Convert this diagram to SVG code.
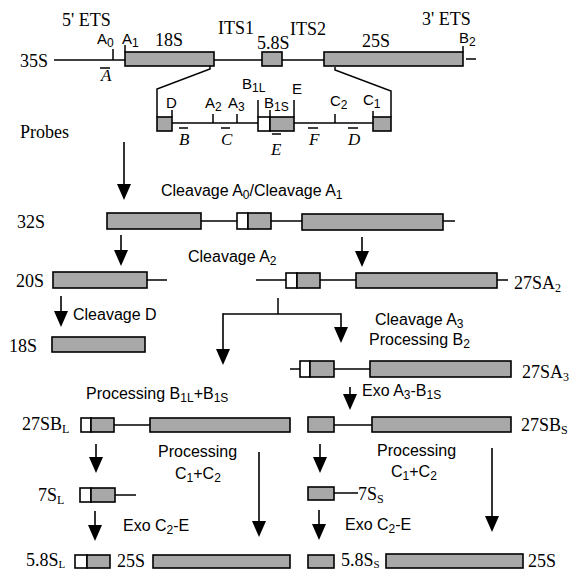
<svg xmlns="http://www.w3.org/2000/svg" width="577" height="572" viewBox="0 0 577 572">
<defs>
<style>
.bx{fill:#a8a8a8;stroke:#000;stroke-width:1.6}
.wb{fill:#fff;stroke:#000;stroke-width:1.6}
.ln{stroke:#000;stroke-width:1.5;fill:none}
.ar{stroke:#000;stroke-width:1.6;fill:none;marker-end:url(#ah)}
.ser{font-family:"Liberation Serif","Times New Roman",serif;font-size:18px;fill:#000}
.sm{font-size:12px}
.sb{font-size:11px}
.sans{font-family:"Liberation Sans",Arial,sans-serif;font-size:16px;fill:#000}
.lab{font-family:"Liberation Sans",Arial,sans-serif;font-size:15px;fill:#000}
.prb{font-family:"Liberation Serif","Times New Roman",serif;font-size:17px;font-style:italic;fill:#000}
</style>
<marker id="ah" viewBox="0 0 16 14" refX="12" refY="7" markerWidth="16" markerHeight="14" markerUnits="userSpaceOnUse" orient="auto">
<path d="M0,0 L16,7 L0,14 Z" fill="#000"/>
</marker>
</defs>
<rect width="577" height="572" fill="#fff"/>

<g id="n35S">
<text class="ser" x="20" y="67">35S</text>
<line class="ln" x1="54" y1="60" x2="125" y2="60"/>
<line class="ln" x1="113" y1="60" x2="113" y2="49"/>
<line class="ln" x1="125" y1="52" x2="125" y2="45"/>
<rect class="bx" x="125" y="52" width="89" height="14"/>
<line class="ln" x1="214" y1="60" x2="262" y2="60"/>
<rect class="bx" x="262" y="52" width="20" height="14"/>
<line class="ln" x1="282" y1="60" x2="324" y2="60"/>
<rect class="bx" x="324" y="52" width="139" height="14"/>
<line class="ln" x1="463" y1="52" x2="463" y2="46"/>
<line class="ln" x1="466" y1="59" x2="476" y2="59"/>
<text class="ser" x="62" y="26">5' ETS</text>
<text class="lab" x="97" y="44">A<tspan class="sm" dy="3">0</tspan></text>
<text class="lab" x="122" y="44">A<tspan class="sm" dy="3">1</tspan></text>
<text class="ser" x="155" y="46" font-size="17">18S</text>
<text class="ser" x="218" y="34" font-size="17">ITS1</text>
<text class="ser" x="257" y="49" font-size="17">5.8S</text>
<text class="ser" x="290" y="35" font-size="17">ITS2</text>
<text class="ser" x="362" y="47" font-size="17">25S</text>
<text class="ser" x="422" y="25" font-size="17">3' ETS</text>
<text class="lab" x="459" y="43">B<tspan class="sm" dy="3">2</tspan></text>
<line class="ln" x1="100" y1="68" x2="110" y2="68"/>
<text class="prb" x="101" y="81">A</text>
</g>

<g id="n-expanded">
<polyline class="ln" points="210,66 210,69 157,89 157,117"/>
<rect class="bx" x="157" y="117" width="15" height="14"/>
<line class="ln" x1="172" y1="117" x2="172" y2="110"/>
<line class="ln" x1="172" y1="123" x2="258" y2="123"/>
<line class="ln" x1="213" y1="123" x2="213" y2="114"/>
<line class="ln" x1="237" y1="123" x2="237" y2="114"/>
<rect class="wb" x="258" y="117" width="12" height="14"/>
<rect class="bx" x="270" y="117" width="24" height="14"/>
<line class="ln" x1="258" y1="117" x2="258" y2="100"/>
<line class="ln" x1="270" y1="117" x2="270" y2="110"/>
<line class="ln" x1="294" y1="117" x2="294" y2="100"/>
<line class="ln" x1="294" y1="123" x2="373" y2="123"/>
<line class="ln" x1="335" y1="123" x2="335" y2="114"/>
<rect class="bx" x="373" y="117" width="18" height="14"/>
<line class="ln" x1="373" y1="117" x2="373" y2="111"/>
<polyline class="ln" points="391,117 391,91 335,70 335,67"/>
<text class="lab" x="166" y="108">D</text>
<text class="lab" x="205" y="108">A<tspan class="sm" dy="3">2</tspan></text>
<text class="lab" x="228" y="108">A<tspan class="sm" dy="3">3</tspan></text>
<text class="lab" x="242" y="89">B<tspan class="sm" dy="3">1L</tspan></text>
<text class="lab" x="264" y="108">B<tspan class="sm" dy="3">1S</tspan></text>
<text class="lab" x="292" y="94">E</text>
<text class="lab" x="330" y="106">C<tspan class="sm" dy="3">2</tspan></text>
<text class="lab" x="363" y="105">C<tspan class="sm" dy="3">1</tspan></text>
<text class="ser" x="20" y="138">Probes</text>
<line class="ln" x1="179" y1="128" x2="188" y2="128"/>
<text class="prb" x="179" y="145">B</text>
<line class="ln" x1="221" y1="128" x2="230" y2="128"/>
<text class="prb" x="221" y="145">C</text>
<line class="ln" x1="272" y1="134" x2="281" y2="134"/>
<text class="prb" x="271" y="155">E</text>
<line class="ln" x1="308" y1="128" x2="318" y2="128"/>
<text class="prb" x="309" y="145">F</text>
<line class="ln" x1="348" y1="128" x2="358" y2="128"/>
<text class="prb" x="348" y="145">D</text>
</g>

<g id="n32S">
<text class="ser" x="17" y="228">32S</text>
<rect class="bx" x="107" y="213" width="94" height="16"/>
<line class="ln" x1="201" y1="221" x2="237" y2="221"/>
<rect class="wb" x="237" y="213" width="11" height="16"/>
<rect class="bx" x="248" y="213" width="23" height="16"/>
<line class="ln" x1="271" y1="221" x2="302" y2="221"/>
<rect class="bx" x="302" y="214" width="141" height="16"/>
<line class="ln" x1="443" y1="221" x2="455" y2="221"/>
</g>

<g id="n20S">
<text class="ser" x="16" y="287">20S</text>
<rect class="bx" x="53" y="272" width="94" height="16"/>
<line class="ln" x1="147" y1="280" x2="167" y2="280"/>
</g>

<g id="n27SA2">
<line class="ln" x1="256" y1="280" x2="286" y2="280"/>
<rect class="wb" x="286" y="273" width="11" height="15"/>
<rect class="bx" x="297" y="273" width="23" height="15"/>
<line class="ln" x1="320" y1="280" x2="356" y2="280"/>
<rect class="bx" x="356" y="273" width="141" height="15"/>
<line class="ln" x1="497" y1="280" x2="508" y2="280"/>
<text class="ser" x="514" y="289">27SA<tspan class="sm" dy="3">2</tspan></text>
</g>

<g id="n18S">
<text class="ser" x="9" y="352">18S</text>
<rect class="bx" x="52" y="337" width="93" height="15"/>
</g>

<g id="n27SA3">
<line class="ln" x1="290" y1="369" x2="300" y2="369"/>
<rect class="wb" x="300" y="361" width="10" height="16"/>
<rect class="bx" x="310" y="361" width="24" height="16"/>
<line class="ln" x1="334" y1="369" x2="370" y2="369"/>
<rect class="bx" x="370" y="361" width="141" height="16"/>
<text class="ser" x="522" y="378">27SA<tspan class="sm" dy="3">3</tspan></text>
</g>

<g id="n27SBL">
<text class="ser" x="22" y="430">27SB<tspan class="sm" dy="3">L</tspan></text>
<rect class="wb" x="81" y="418" width="10" height="14"/>
<rect class="bx" x="91" y="418" width="23" height="14"/>
<line class="ln" x1="114" y1="425" x2="150" y2="425"/>
<rect class="bx" x="150" y="418" width="140" height="14"/>
</g>

<g id="n27SBS">
<rect class="bx" x="308" y="417" width="26" height="15"/>
<line class="ln" x1="334" y1="425" x2="372" y2="425"/>
<rect class="bx" x="372" y="417" width="139" height="15"/>
<text class="ser" x="521" y="431">27SB<tspan class="sm" dy="3">S</tspan></text>
</g>

<g id="n7SL">
<text class="ser" x="38" y="501">7S<tspan class="sm" dy="3">L</tspan></text>
<rect class="wb" x="80" y="488" width="11" height="14"/>
<rect class="bx" x="91" y="488" width="24" height="14"/>
<line class="ln" x1="115" y1="495" x2="136" y2="495"/>
</g>

<g id="n7SS">
<rect class="bx" x="308" y="487" width="26" height="13"/>
<line class="ln" x1="334" y1="493" x2="358" y2="493"/>
<text class="ser" x="358" y="500">7S<tspan class="sm" dy="3">S</tspan></text>
</g>

<g id="n58SL">
<text class="ser" x="26" y="566">5.8S<tspan class="sb" dy="2">L</tspan></text>
<rect class="wb" x="75" y="555" width="12" height="13"/>
<rect class="bx" x="87" y="555" width="23" height="13"/>
</g>

<g id="n25S-left">
<text class="ser" x="117" y="567">25S</text>
<rect class="bx" x="153" y="555" width="137" height="13"/>
</g>

<g id="n58SS">
<rect class="bx" x="308" y="555" width="26" height="13"/>
<text class="ser" x="341" y="566">5.8S<tspan class="sb" dy="2">S</tspan></text>
</g>

<g id="n25S-right">
<rect class="bx" x="386" y="554" width="137" height="14"/>
<text class="ser" x="528" y="567">25S</text>
</g>

<g id="connectors">
<line class="ar" x1="124" y1="142" x2="124" y2="196"/>
<line class="ar" x1="121" y1="235" x2="121" y2="262"/>
<line class="ar" x1="362" y1="237" x2="362" y2="263"/>
<line class="ar" x1="61" y1="296" x2="61" y2="323"/>
<line class="ln" x1="278" y1="298" x2="278" y2="314"/>
<polyline class="ln" points="223,314 341,314"/>
<line class="ar" x1="223" y1="313.3" x2="223" y2="361"/>
<line class="ar" x1="341" y1="313.3" x2="341" y2="339"/>
<line class="ar" x1="350" y1="387" x2="350" y2="406"/>
<line class="ar" x1="96" y1="444" x2="96" y2="469"/>
<line class="ar" x1="259" y1="452" x2="259" y2="533"/>
<line class="ar" x1="320" y1="444" x2="320" y2="469"/>
<line class="ar" x1="492" y1="448" x2="492" y2="528"/>
<line class="ar" x1="95" y1="511" x2="95" y2="537"/>
<line class="ar" x1="319" y1="510" x2="319" y2="536"/>
</g>

<g id="labels">
<text class="sans" x="161" y="196">Cleavage A<tspan class="sm" dy="3">0</tspan><tspan dy="-3">/Cleavage A</tspan><tspan class="sm" dy="3">1</tspan></text>
<text class="sans" x="188" y="262">Cleavage A<tspan class="sm" dy="3">2</tspan></text>
<text class="sans" x="73" y="320">Cleavage D</text>
<text class="sans" x="375" y="325">Cleavage A<tspan class="sm" dy="3">3</tspan></text>
<text class="sans" x="369" y="345">Processing B<tspan class="sm" dy="3">2</tspan></text>
<text class="sans" x="86" y="399">Processing B<tspan class="sm" dy="3">1L</tspan><tspan dy="-3">+B</tspan><tspan class="sm" dy="3">1S</tspan></text>
<text class="sans" x="362" y="396">Exo A<tspan class="sm" dy="3">3</tspan><tspan dy="-3">-B</tspan><tspan class="sm" dy="3">1S</tspan></text>
<text class="sans" x="158" y="457">Processing</text>
<text class="sans" x="175" y="479">C<tspan class="sm" dy="3">1</tspan><tspan dy="-3">+C</tspan><tspan class="sm" dy="3">2</tspan></text>
<text class="sans" x="377" y="456">Processing</text>
<text class="sans" x="391" y="477">C<tspan class="sm" dy="3">1</tspan><tspan dy="-3">+C</tspan><tspan class="sm" dy="3">2</tspan></text>
<text class="sans" x="123" y="531">Exo C<tspan class="sm" dy="3">2</tspan><tspan dy="-3">-E</tspan></text>
<text class="sans" x="345" y="530">Exo C<tspan class="sm" dy="3">2</tspan><tspan dy="-3">-E</tspan></text>
</g>
</svg>
